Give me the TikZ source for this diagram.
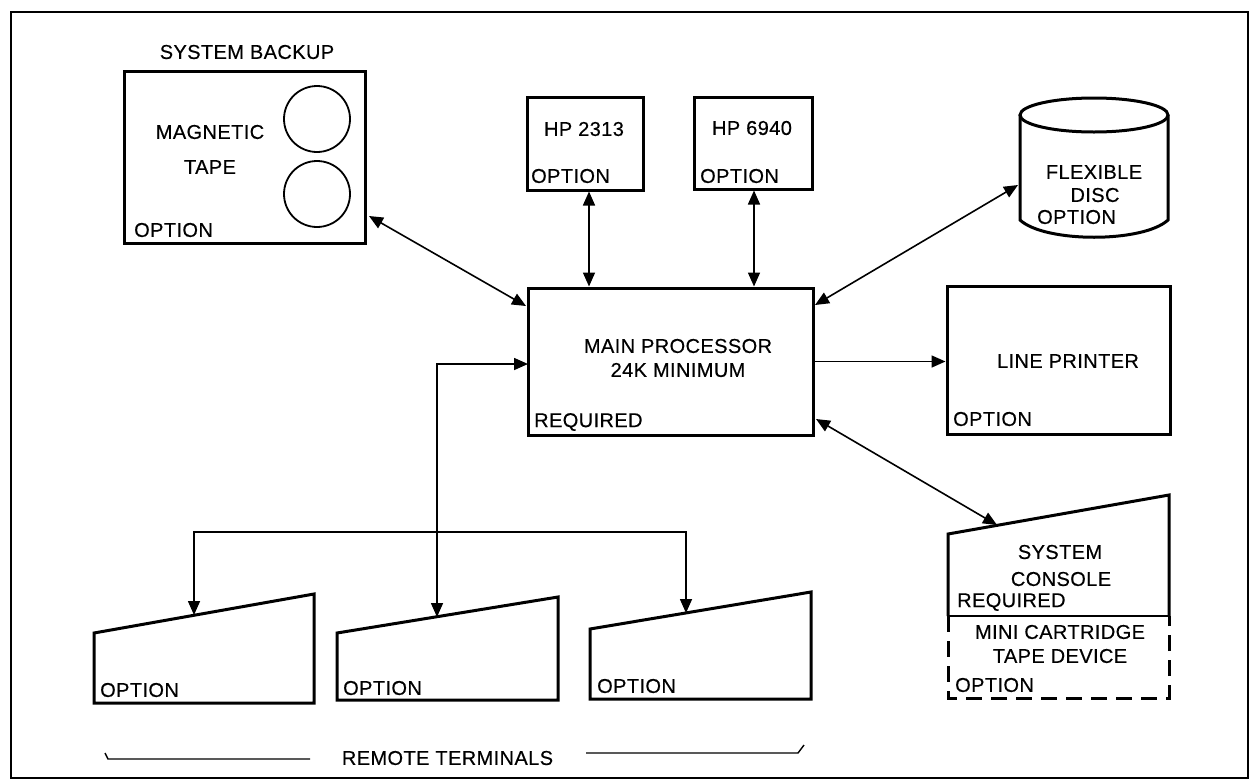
\documentclass[tikz,border=0pt]{standalone}
\usepackage{fontspec}
\setmainfont{Liberation Sans}[FakeBold=0.4, LetterSpace=2]
\usetikzlibrary{arrows.meta}
\tikzset{
  txt/.style={font=\fontsize{20}{24}\selectfont, inner sep=0pt},
  lbl/.style={txt, anchor=west},
  box/.style={draw, line width=3pt, rectangle, inner sep=0pt},
  shp/.style={line width=3pt, line join=miter},
  conn/.style={line width=1.6pt},
  onetip/.style={-{Triangle[length=14pt,width=12pt]}},
  twotips/.style={{Triangle[length=14pt,width=12pt]}-{Triangle[length=14pt,width=12pt]}},
}
\begin{document}
\begin{tikzpicture}[x=1pt,y=-1pt]
\useasboundingbox (0,0) rectangle (1252,782);
\draw[line width=2.2pt] (11,12) rectangle (1248,778);

% system backup / magnetic tape
\node[txt] (sbk) at (247,52) {SYSTEM BACKUP};
\node[box, minimum width=241pt, minimum height=172pt] (tape) at (244.5,157) {};
\draw[line width=1.8pt] (317,119) circle[radius=33];
\draw[line width=1.8pt] (317,194) circle[radius=33];
\node[txt] (mag) at (210,132) {MAGNETIC};
\node[txt] (tp) at (210,167) {TAPE};
\node[lbl] (tapeopt) at (134,230) {OPTION};

% HP 2313 and HP 6940
\node[box, minimum width=116pt, minimum height=93pt] (hpa) at (585,143.5) {};
\node[txt] (hpatxt) at (584,129) {HP 2313};
\node[lbl] (hpaopt) at (531,176) {OPTION};
\node[box, minimum width=118pt, minimum height=92pt] (hpb) at (753,143) {};
\node[txt] (hpbtxt) at (752,128) {HP 6940};
\node[lbl] (hpbopt) at (700,176) {OPTION};

% flexible disc
\draw[shp] (1094,115) ellipse[x radius=74, y radius=17];
\draw[shp] (1020,115) -- (1020,220) .. controls (1045,243) and (1143,243) .. (1168,220) -- (1168,115);
\node[txt] (flx) at (1094,172) {FLEXIBLE};
\node[txt] (dsc) at (1095,195) {DISC};
\node[lbl] (dscopt) at (1037,217) {OPTION};

% main processor
\node[box, minimum width=285pt, minimum height=147pt] (main) at (670.5,361.5) {};
\node[txt, align=center] (maintxt) at (678,358) {MAIN PROCESSOR\\24K MINIMUM};
\node[lbl] (mainreq) at (534,422) {REQUIRED};

% line printer
\node[box, minimum width=223pt, minimum height=148pt] (lp) at (1058.5,360) {};
\node[txt] (lptxt) at (1068,361) {LINE PRINTER};
\node[lbl] (lpopt) at (953,419) {OPTION};

% system console + mini cartridge
\draw[shp] (948,616) -- (948,534) -- (1169,495) -- (1169,616);
\draw[line width=1.8pt] (948,616) -- (1169,616);
\draw[shp, dash pattern=on 16pt off 9pt] (948,616) -- (948,698) -- (1169,698) -- (1169,616);
\node[txt] (sc1) at (1060,552) {SYSTEM};
\node[txt] (sc2) at (1061,579) {CONSOLE};
\node[lbl] (screq) at (957,602) {REQUIRED};
\node[txt] (mc1) at (1060,632) {MINI CARTRIDGE};
\node[txt] (mc2) at (1060,656) {TAPE DEVICE};
\node[lbl] (mcopt) at (955,685) {OPTION};

% remote terminals
\draw[shp] (94,633) -- (314,594) -- (314,703) -- (94,703) -- cycle;
\draw[shp] (337,633) -- (558,597) -- (558,700) -- (337,700) -- cycle;
\draw[shp] (590,629) -- (811,592) -- (811,699) -- (590,699) -- cycle;
\node[lbl] (t1opt) at (100,690) {OPTION};
\node[lbl] (t2opt) at (343,688) {OPTION};
\node[lbl] (t3opt) at (597,686) {OPTION};

\node[txt] (rt) at (447.5,758) {REMOTE TERMINALS};
\draw[line width=1.4pt] (105,753) -- (108,759) -- (310,759);
\draw[line width=1.4pt] (586,753) -- (798,753) -- (804,745);

% connector end points
\coordinate (tapeend) at (369,216);
\coordinate (mainnw) at (526,306);
\coordinate (mainne) at (815,305);
\coordinate (discend) at (1018,185);
\coordinate (mainse) at (816,419);
\coordinate (consend) at (997,525);
\coordinate (mainw) at (528,364);
\coordinate (busbend) at (437,364);
\coordinate (busmid) at (437,532);
\coordinate (busl) at (194,532);
\coordinate (busr) at (686,532);
\coordinate (t1top) at (194,615);
\coordinate (t2top) at (437,617);
\coordinate (t3top) at (686,613);

% connectors
\draw[conn,twotips] (tapeend) -- (mainnw);
\draw[conn,twotips] ([xshift=4pt]hpa.south) -- ([xshift=4pt]hpa.south |- main.north);
\draw[conn,twotips] ([xshift=1pt]hpb.south) -- ([xshift=1pt]hpb.south |- main.north);
\draw[conn,twotips] (discend) -- (mainne);
\draw[conn,onetip] (main.east) -- (main.east -| lp.west);
\draw[conn,twotips] (mainse) -- (consend);
\draw[conn,twotips] (mainw) -- (busbend) -- (t2top);
\draw[conn,onetip] (busmid) -- (busl) -- (t1top);
\draw[conn,onetip] (busmid) -- (busr) -- (t3top);
\end{tikzpicture}
\end{document}
